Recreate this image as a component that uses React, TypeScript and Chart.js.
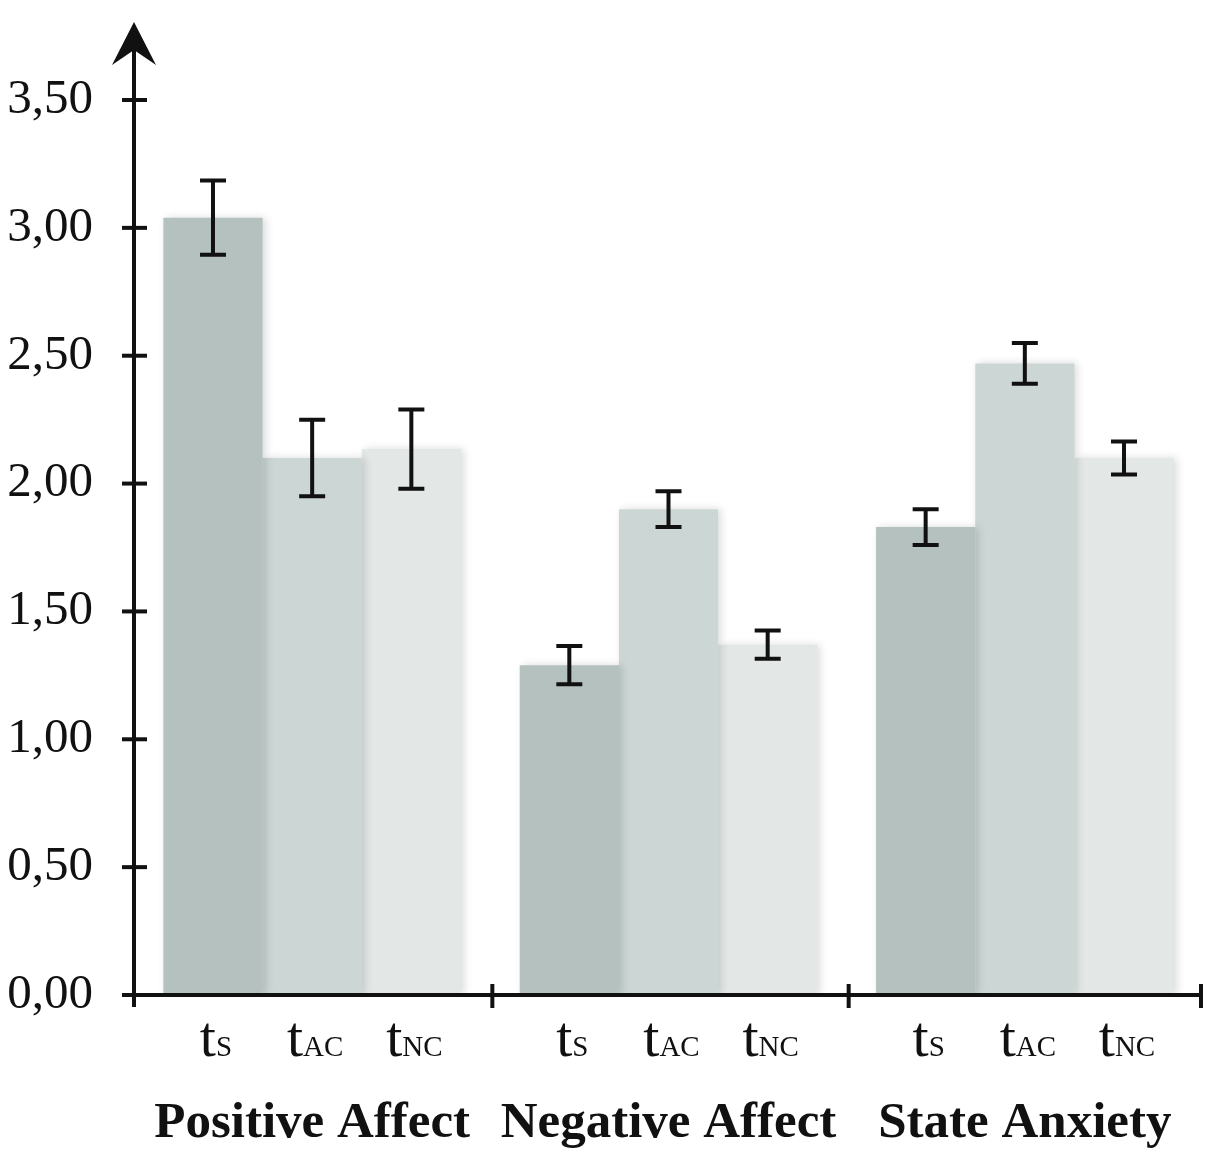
import React, { useRef, useEffect } from "react";
import { Chart, registerables, Plugin } from "chart.js";

Chart.register(...registerables);

// data
const groups = ["Positive Affect", "Negative Affect", "State Anxiety"];
const timePoints = ["S", "AC", "NC"];
const tsMeans = [3.04, 1.29, 1.83];
const tacMeans = [2.1, 1.9, 2.47];
const tncMeans = [2.135, 1.37, 2.1];
const tsErr = [0.145, 0.075, 0.07];
const tacErr = [0.15, 0.07, 0.08];
const tncErr = [0.155, 0.055, 0.065];
const yTicks = [0, 0.5, 1, 1.5, 2, 2.5, 3, 3.5];
const barColors = ["#b4c1bf", "#ccd7d5", "#e3e8e6"];

const errors = [tsErr, tacErr, tncErr];
const SERIF = "'Liberation Serif', 'DejaVu Serif', serif";
const INK = "#111111";

const decorPlugin: Plugin<"bar"> = {
  id: "decor",
  beforeDatasetDraw(chart) {
    const ctx = chart.ctx;
    ctx.save();
    ctx.shadowColor = "rgba(0,0,0,0.14)";
    ctx.shadowBlur = 8;
    ctx.shadowOffsetX = 3;
    ctx.shadowOffsetY = 0;
  },
  afterDatasetDraw(chart) {
    chart.ctx.restore();
  },
  afterDraw(chart) {
    const ctx = chart.ctx;
    const y = chart.scales.y;
    const x = chart.scales.x;
    const area = chart.chartArea;
    const axisX = area.left;
    const axisY = area.bottom;

    ctx.save();
    ctx.strokeStyle = INK;
    ctx.fillStyle = INK;
    ctx.lineWidth = 4;
    ctx.lineCap = "butt";

    // error bars
    chart.data.datasets.forEach((ds, i) => {
      const meta = chart.getDatasetMeta(i);
      meta.data.forEach((bar: any, j) => {
        const v = ds.data[j] as number;
        const e = errors[i][j];
        const top = y.getPixelForValue(v + e);
        const bot = y.getPixelForValue(v - e);
        ctx.beginPath();
        ctx.moveTo(bar.x, top);
        ctx.lineTo(bar.x, bot);
        ctx.moveTo(bar.x - 13, top);
        ctx.lineTo(bar.x + 13, top);
        ctx.moveTo(bar.x - 13, bot);
        ctx.lineTo(bar.x + 13, bot);
        ctx.stroke();
      });
    });

    // y axis with arrow
    ctx.beginPath();
    ctx.moveTo(axisX, axisY + 12);
    ctx.lineTo(axisX, 50);
    ctx.stroke();
    ctx.beginPath();
    ctx.moveTo(axisX, 22);
    ctx.lineTo(axisX + 22, 65);
    ctx.lineTo(axisX, 50);
    ctx.lineTo(axisX - 22, 65);
    ctx.closePath();
    ctx.fill();

    yTicks.forEach((t) => {
      if (t === 0) return;
      const py = y.getPixelForValue(t);
      ctx.beginPath();
      ctx.moveTo(axisX - 12, py);
      ctx.lineTo(axisX + 13, py);
      ctx.stroke();
    });

    // x axis
    ctx.beginPath();
    ctx.moveTo(axisX - 12, axisY);
    ctx.lineTo(area.right, axisY);
    ctx.stroke();
    const bounds: number[] = [];
    for (let i = 1; i < groups.length; i++) {
      bounds.push((x.getPixelForTick(i - 1) + x.getPixelForTick(i)) / 2 + 2);
    }
    bounds.push(area.right - 2);
    bounds.forEach((bx) => {
      ctx.beginPath();
      ctx.moveTo(bx, axisY - 11);
      ctx.lineTo(bx, axisY + 13);
      ctx.stroke();
    });

    // time point labels with subscripts
    ctx.textBaseline = "alphabetic";
    ctx.textAlign = "left";
    chart.data.datasets.forEach((_, i) => {
      const meta = chart.getDatasetMeta(i);
      meta.data.forEach((bar: any) => {
        ctx.font = `58px ${SERIF}`;
        const wt = ctx.measureText("t").width;
        ctx.font = `29px ${SERIF}`;
        const ws = ctx.measureText(timePoints[i]).width;
        const start = bar.x - (wt + ws) / 2 + 3;
        ctx.font = `58px ${SERIF}`;
        ctx.fillText("t", start, 1056);
        ctx.font = `29px ${SERIF}`;
        ctx.fillText(timePoints[i], start + wt, 1056);
      });
    });

    // group labels
    ctx.textAlign = "center";
    ctx.font = `bold 51px ${SERIF}`;
    groups.forEach((g, i) => {
      ctx.fillText(g, x.getPixelForTick(i), 1137);
    });
    ctx.restore();
  },
};

const App: React.FC = () => {
  const canvasRef = useRef<HTMLCanvasElement | null>(null);

  useEffect(() => {
    document.body.style.margin = "0";
    if (!canvasRef.current) return;
    const chart = new Chart(canvasRef.current, {
      type: "bar",
      data: {
        labels: groups,
        datasets: [
          { label: "tS", data: tsMeans, backgroundColor: barColors[0] },
          { label: "tAC", data: tacMeans, backgroundColor: barColors[1] },
          { label: "tNC", data: tncMeans, backgroundColor: barColors[2] },
        ],
      },
      options: {
        animation: false,
        responsive: true,
        maintainAspectRatio: false,
        layout: { padding: { left: 0, top: 100, right: 10, bottom: 0 } },
        datasets: {
          bar: { categoryPercentage: 0.835, barPercentage: 1 },
        },
        plugins: {
          legend: { display: false },
          tooltip: { enabled: false },
        },
        scales: {
          x: {
            grid: { display: false, drawTicks: false },
            border: { display: false },
            ticks: { display: false },
            afterFit: (scale: any) => {
              scale.height = 160;
            },
          },
          y: {
            min: 0,
            max: 3.5,
            grid: { display: false, drawTicks: false },
            border: { display: false },
            afterBuildTicks: (scale: any) => {
              scale.ticks = yTicks.map((v) => ({ value: v }));
            },
            afterFit: (scale: any) => {
              scale.width = 134;
            },
            ticks: {
              padding: 41,
              color: INK,
              font: { family: SERIF, size: 49 },
              callback: (v: any) => Number(v).toFixed(2).replace(".", ","),
            },
          },
        },
      },
      plugins: [decorPlugin],
    });
    return () => chart.destroy();
  }, []);

  return (
    <div style={{ width: 1213, height: 1155, position: "relative" }}>
      <canvas ref={canvasRef} />
    </div>
  );
};

export default App;
